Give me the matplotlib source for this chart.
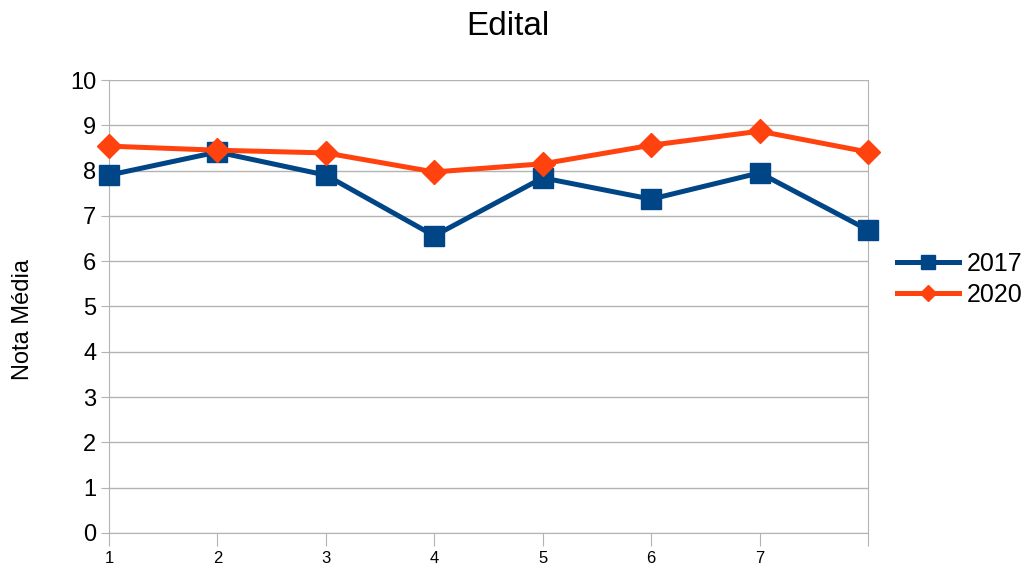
import matplotlib
matplotlib.use("Agg")
import matplotlib.pyplot as plt

plt.rcParams['font.family'] = ['Liberation Sans', 'DejaVu Sans']

categories = [1, 2, 3, 4, 5, 6, 7, 8]
tick_labels = ["1", "2", "3", "4", "5", "6", "7", ""]
s2017 = [7.90, 8.41, 7.90, 6.56, 7.84, 7.37, 7.95, 6.69]
s2020 = [8.54, 8.45, 8.39, 7.97, 8.15, 8.56, 8.87, 8.41]

fig = plt.figure(figsize=(10.26, 5.69), dpi=100)
ax = fig.add_axes([0.1062, 0.0633, 0.7398, 0.7961])

ax.plot(categories, s2017, color="#004586", lw=3.6, marker="s", ms=15, label="2017",
        zorder=3, clip_on=False)
ax.plot(categories, s2020, color="#ff420e", lw=3.6, marker="D", ms=12, label="2020",
        zorder=4, clip_on=False)

ax.set_xlim(1, 8)
ax.set_ylim(0, 10)
ax.set_yticks(range(0, 11))
ax.set_xticks(categories)
ax.set_xticklabels(tick_labels, fontsize=12)
ax.tick_params(axis='y', labelsize=17, length=6, color="#b3b3b3", pad=3)
ax.tick_params(axis='x', length=9, color="#b3b3b3", pad=4)
ax.grid(axis='y', color="#b3b3b3", lw=1)
ax.set_axisbelow(True)
for side in ["left", "right", "bottom"]:
    ax.spines[side].set_color("#b3b3b3")
ax.spines["top"].set_visible(False)

ax.set_ylabel("Nota Média", fontsize=17, labelpad=26)
ax.yaxis.label.set_y(0.472)
fig.text(0.495, 0.953, "Edital", ha="center", va="center", fontsize=24)

ax.legend(loc="center left", bbox_to_anchor=(1.038, 0.56), frameon=False, fontsize=18,
          handlelength=2.5, labelspacing=0.3, handletextpad=0.3, markerscale=0.7,
          borderaxespad=0, borderpad=0)

fig.savefig("out.png", dpi=100)
